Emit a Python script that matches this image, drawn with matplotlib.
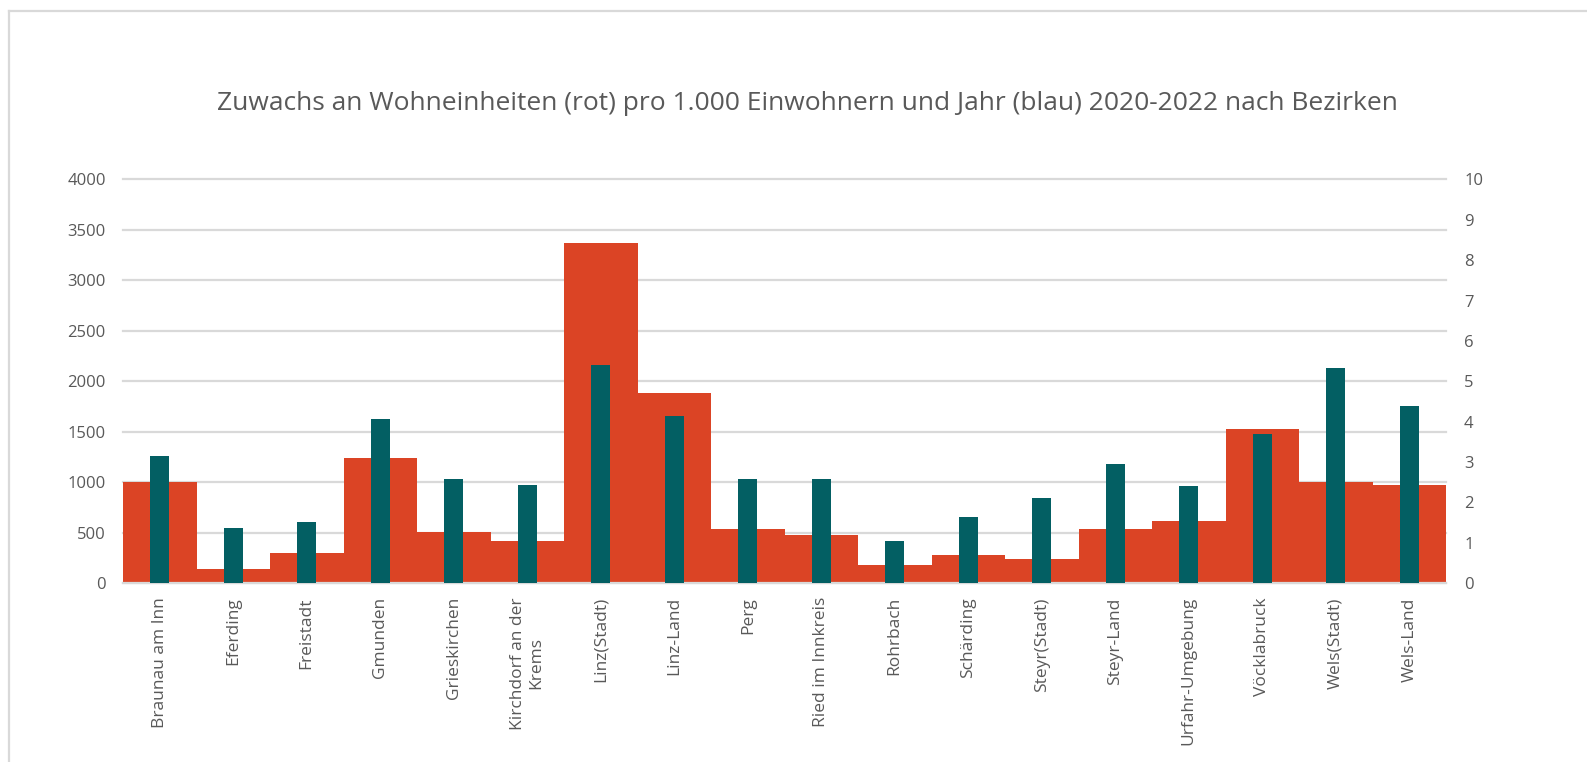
import matplotlib
matplotlib.use("Agg")
import matplotlib.pyplot as plt
from matplotlib.lines import Line2D
import numpy as np

categories = ["Braunau am Inn", "Eferding", "Freistadt", "Gmunden", "Grieskirchen",
              "Kirchdorf an der\nKrems", "Linz(Stadt)", "Linz-Land", "Perg",
              "Ried im Innkreis", "Rohrbach", "Schärding", "Steyr(Stadt)",
              "Steyr-Land", "Urfahr-Umgebung", "Vöcklabruck", "Wels(Stadt)", "Wels-Land"]
zuwachs = [1000, 140, 300, 1245, 508, 416, 3365, 1888, 537, 476, 178, 281, 241,
           538, 620, 1530, 1000, 978]
pro_1000 = [3.14, 1.36, 1.52, 4.06, 2.59, 2.44, 5.41, 4.13, 2.59, 2.57, 1.04, 1.65,
            2.11, 2.95, 2.42, 3.70, 5.34, 4.39]
left_ticks = [0, 500, 1000, 1500, 2000, 2500, 3000, 3500, 4000]
right_ticks = list(range(0, 11))
title = "Zuwachs an Wohneinheiten (rot) pro 1.000 Einwohnern und Jahr (blau) 2020-2022 nach Bezirken"

RED = "#DB4425"
TEAL = "#035F63"
GRID = "#D9D9D9"
TXT = "#595959"

W, H = 1587, 762
fig = plt.figure(figsize=(W / 100, H / 100), dpi=100)
fig.patch.set_facecolor("white")

# outer chart border (top and left edges visible)
fig.add_artist(Line2D([8.5 / W, 8.5 / W], [0, 1 - 10.5 / H], transform=fig.transFigure,
                      color=GRID, linewidth=1.6))
fig.add_artist(Line2D([8.5 / W, 1.0], [1 - 10.5 / H, 1 - 10.5 / H], transform=fig.transFigure,
                      color=GRID, linewidth=1.6))

ax = fig.add_axes([123 / W, 1 - 583.3 / H, (1446 - 123) / W, (583.3 - 179.3) / H])
ax2 = ax.twinx()

x = np.arange(len(categories))
ax.bar(x, zuwachs, width=1.0, color=RED, zorder=2)
ax2.bar(x, pro_1000, width=0.254, color=TEAL, zorder=3)

ax.set_xlim(-0.5, len(categories) - 0.5)
ax.set_ylim(0, 4000)
ax2.set_ylim(0, 10)
ax.set_yticks(left_ticks)
ax2.set_yticks(right_ticks)
ax.yaxis.grid(True, color=GRID, linewidth=1.6, zorder=0)
for gl in ax.get_ygridlines():
    gl.set_clip_on(False)
ax.set_axisbelow(True)

for a in (ax, ax2):
    for s in a.spines.values():
        s.set_visible(False)
    a.tick_params(length=0, colors=TXT, labelsize=12)
    for lab in a.get_yticklabels():
        lab.set_fontfamily("Open Sans")
ax.spines["bottom"].set_visible(True)
ax.spines["bottom"].set_color(GRID)
ax.spines["bottom"].set_linewidth(1.6)
ax.spines["bottom"].set_zorder(5)
ax.tick_params(axis="y", pad=12.5)
ax2.tick_params(axis="y", pad=13)

ax.set_xticks(x)
ax.set_xticklabels(categories, rotation=90, fontsize=12.5, color=TXT,
                   fontfamily="Open Sans", va="top", ha="center",
                   multialignment="center")
ax.tick_params(axis="x", pad=10)

fig.text(807 / W, 1 - 104 / H, title, ha="center", va="center",
         fontsize=19, color=TXT, fontfamily="Open Sans")

fig.savefig("out.png", dpi=100, facecolor="white")
